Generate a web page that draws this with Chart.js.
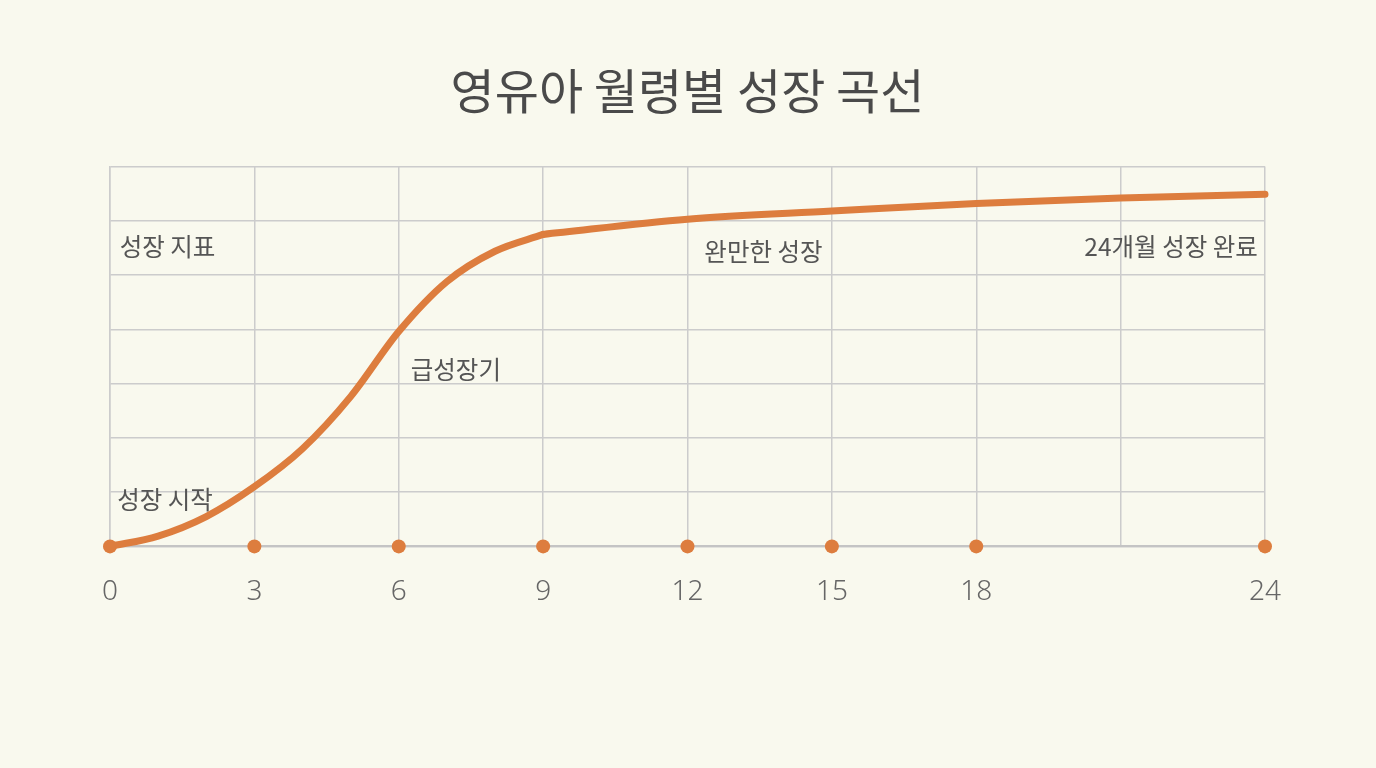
<!DOCTYPE html>
<html lang="ko">
<head>
<meta charset="utf-8">
<title>영유아 월령별 성장 곡선</title>
<script src="https://cdn.jsdelivr.net/npm/chart.js@4.4.1/dist/chart.umd.min.js"></script>
<style>
  html, body { margin: 0; padding: 0; background: #f9f9ee; }
  #wrap { width: 1376px; height: 768px; }
</style>
</head>
<body>
<div id="wrap"><canvas id="growthChart" width="1376" height="768"></canvas></div>
<script>
// 월령(개월)과 성장 지표 값 - 그림에서 읽은 값
const months = [0, 1, 2, 3, 4, 5, 6, 7, 8, 9, 12, 15, 18, 21, 24];
const growth = [0, 0.19, 0.55, 1.10, 1.80, 2.76, 3.96, 4.88, 5.44, 5.75, 6.03, 6.18, 6.32, 6.42, 6.49];

// 급성장기가 끝나는 월령 (여기서 곡선이 꺾임)
const breakMonth = 9;

// 축 위의 점 표시 월령
const markerMonths = [0, 3, 6, 9, 12, 15, 18, 24];

// 축 눈금 라벨 (21은 표시 안 함)
const tickLabels = ['0', '3', '6', '9', '12', '15', '18', '24'];

// 구간 설명 텍스트 (데이터 좌표)
const noteTexts = ['성장 지표', '성장 시작', '급성장기', '완만한 성장', '24개월 성장 완료'];
const noteX = [0.2, 0.15, 6.25, 12.35, 23.85];
const noteY = [5.53, 0.86, 3.25, 5.44, 5.53];
const noteAlign = ['left', 'left', 'left', 'left', 'right'];

const orange = '#dd7d3e';

const points = months.map((m, i) => ({ x: m, y: growth[i] }));
const rapidPart = points.filter(p => p.x <= breakMonth);
const slowPart = points.filter(p => p.x >= breakMonth);

const notesPlugin = {
    id: 'notes',
    beforeDatasetsDraw(chart) {
        const ctx = chart.ctx;
        const xs = chart.scales.x, ys = chart.scales.y;
        ctx.save();
        ctx.font = '24.5px "Noto Sans CJK KR", "Noto Sans", sans-serif';
        ctx.fillStyle = '#555555';
        ctx.textBaseline = 'middle';
        noteTexts.forEach(function(t, i) {
            ctx.textAlign = noteAlign[i];
            ctx.fillText(t, xs.getPixelForValue(noteX[i]), ys.getPixelForValue(noteY[i]));
        });
        ctx.restore();
    }
};

function curveSet(data) {
    return {
        data: data,
        borderColor: orange,
        borderWidth: 7,
        borderCapStyle: 'round',
        borderJoinStyle: 'round',
        cubicInterpolationMode: 'monotone',
        pointRadius: 0,
        fill: false,
        clip: false
    };
}

const ctx = document.getElementById('growthChart').getContext('2d');
new Chart(ctx, {
    type: 'line',
    data: {
        datasets: [
            curveSet(rapidPart),
            curveSet(slowPart),
            {
                label: '월령 표시',
                data: markerMonths.map(m => ({ x: m, y: 0 })),
                showLine: false,
                pointRadius: 7,
                pointBackgroundColor: orange,
                pointBorderWidth: 0,
                clip: false
            }
        ]
    },
    options: {
        responsive: false,
        animation: false,
        layout: { padding: { left: 110, right: 111, top: 0, bottom: 130 } },
        plugins: {
            legend: { display: false },
            tooltip: { enabled: false },
            title: {
                display: true,
                text: '영유아 월령별 성장 곡선',
                color: '#4a4a4a',
                font: { family: '"Noto Sans CJK KR", sans-serif', size: 48, weight: 'normal' },
                padding: { top: 62, bottom: 47 }
            }
        },
        scales: {
            x: {
                type: 'linear',
                min: 0,
                max: 24,
                ticks: {
                    stepSize: 3,
                    padding: 29,
                    color: '#666666',
                    font: { family: '"Noto Sans", sans-serif', size: 28, weight: '300' },
                    callback: function(v) {
                        const idx = markerMonths.indexOf(v);
                        return idx >= 0 ? tickLabels[idx] : '';
                    }
                },
                grid: { color: '#cccccc', lineWidth: 1.5, drawTicks: false },
                border: { color: '#c4c4c4', width: 2 }
            },
            y: {
                min: 0,
                max: 7,
                ticks: { stepSize: 1, display: false },
                grid: { color: '#cccccc', lineWidth: 1.5, drawTicks: false },
                border: { color: '#cccccc', width: 1.5 }
            }
        }
    },
    plugins: [notesPlugin]
});
</script>
</body>
</html>
